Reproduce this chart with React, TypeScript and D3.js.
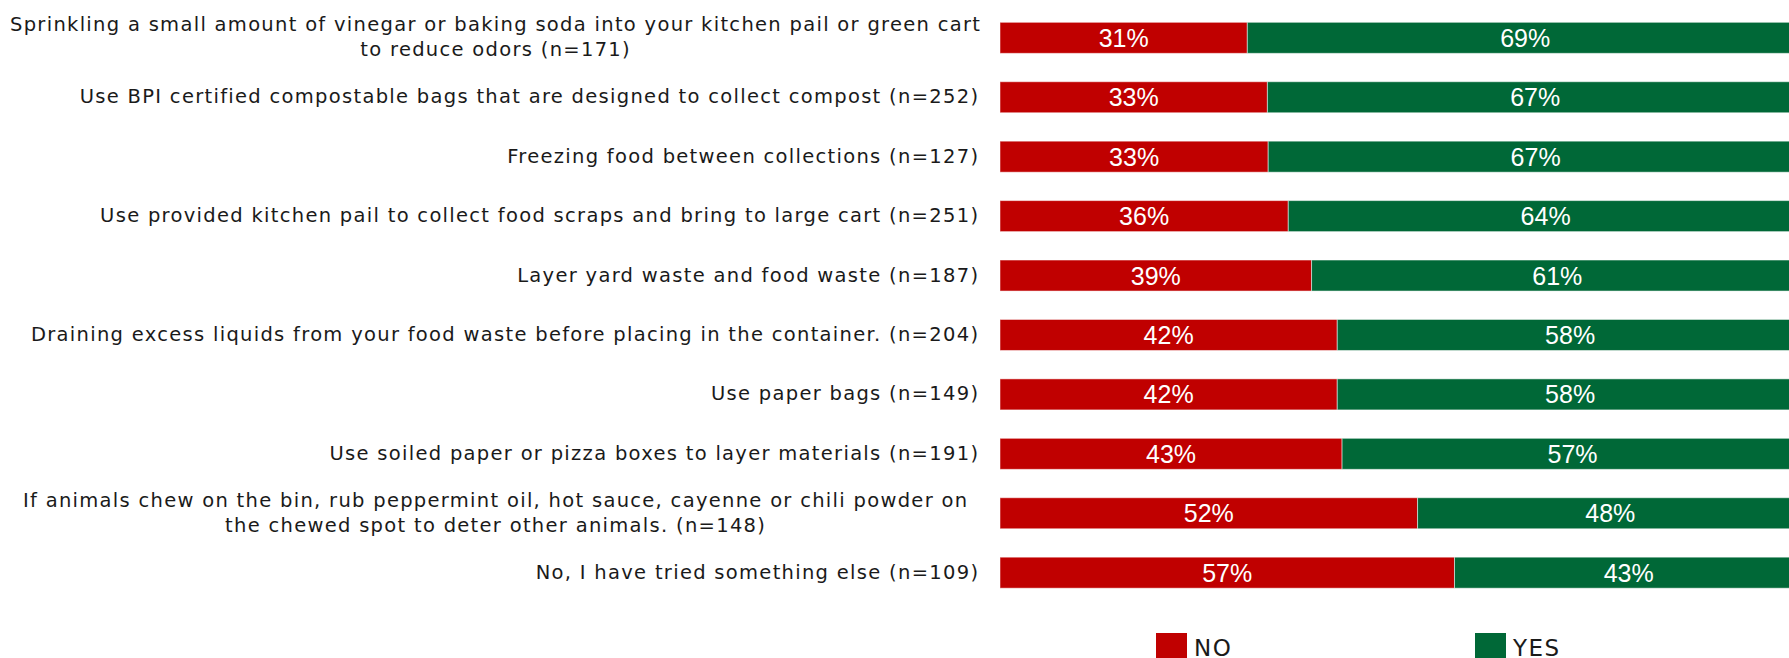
import React from "react";
import * as d3 from "d3";

const categories: string[][] = [
  ["Sprinkling a small amount of vinegar or baking soda into your kitchen pail or green cart", "to reduce odors (n=171)"],
  ["Use BPI certified compostable bags that are designed to collect compost (n=252)"],
  ["Freezing food between collections (n=127)"],
  ["Use provided kitchen pail to collect food scraps and bring to large cart (n=251)"],
  ["Layer yard waste and food waste (n=187)"],
  ["Draining excess liquids from your food waste before placing in the container. (n=204)"],
  ["Use paper bags (n=149)"],
  ["Use soiled paper or pizza boxes to layer materials (n=191)"],
  ["If animals chew on the bin, rub peppermint oil, hot sauce, cayenne or chili powder on", "the chewed spot to deter other animals. (n=148)"],
  ["No, I have tried something else (n=109)"],
];
const noValues: number[] = [30.8, 33.3, 33.4, 35.9, 38.8, 42.0, 42.0, 42.6, 52.0, 56.6];
const yesValues: number[] = [69.2, 66.7, 66.6, 64.1, 61.2, 58.0, 58.0, 57.4, 48.0, 43.4];
const seriesNames: string[] = ["NO", "YES"];
const seriesColors: string[] = ["#C00000", "#006837"];

const W = 1789;
const H = 658;
const labelFont = "'DejaVu Sans', 'Open Sans', sans-serif";
const valueFont = "'Liberation Sans', Arial, sans-serif";

export default function App() {
  const idx = categories.map((_, i) => i);
  const x = d3.scaleLinear().domain([0, 100]).range([1000, 1803]);
  const y = d3
    .scaleBand<number>()
    .domain(idx)
    .range([8.1, 8.1 + 594.3])
    .paddingInner(0.478)
    .paddingOuter(0.239);
  const bw = y.bandwidth();
  const stack = d3.stack<number, string>()
    .keys(seriesNames)
    .value((i, key) => (key === "NO" ? noValues[i] : yesValues[i]));
  const series = stack(idx);
  const labelFontSize = 19.5;
  const ls = 1.3;
  const lineH = 25;

  return (
    <svg
      width={W}
      height={H}
      style={{ position: "absolute", left: 0, top: 0, background: "#fff" }}
    >
      {series.map((s, si) => (
        <g key={s.key}>
          {s.map((d, i) => {
            const x0 = x(d[0]);
            const x1 = x(d[1]);
            const yy = y(i)!;
            const v = si === 0 ? noValues[i] : yesValues[i];
            return (
              <g key={i}>
                <rect
                  x={x0}
                  y={yy}
                  width={x1 - x0}
                  height={bw}
                  fill={seriesColors[si]}
                  stroke="#ffffff"
                  strokeOpacity={0.5}
                  strokeWidth={1}
                />
                <text
                  x={(x0 + x1) / 2}
                  y={yy + bw / 2 + 9}
                  textAnchor="middle"
                  fill="#ffffff"
                  fontFamily={valueFont}
                  fontSize={25}
                >
                  {Math.round(v)}%
                </text>
              </g>
            );
          })}
        </g>
      ))}
      {categories.map((lines, i) => {
        const cy = y(i)! + bw / 2;
        const base = cy + 6 - ((lines.length - 1) * lineH) / 2;
        return (
          <text
            key={i}
            textAnchor="middle"
            fontFamily={labelFont}
            fontSize={labelFontSize}
            letterSpacing={ls}
            fill="#1a1a1a"
          >
            {lines.map((ln, li) =>
              lines.length > 1 ? (
                <tspan key={li} x={(12 + 978) / 2 + ls / 2} y={base + li * lineH}>
                  {ln}
                </tspan>
              ) : (
                <tspan key={li} x={978 + ls} y={base} textAnchor="end">
                  {ln}
                </tspan>
              )
            )}
          </text>
        );
      })}
      {seriesNames.map((n, si) => {
        const lx = si === 0 ? 1156 : 1475;
        return (
          <g key={n}>
            <rect x={lx} y={633} width={31} height={31} fill={seriesColors[si]} />
            <text
              x={lx + 38}
              y={656}
              fontFamily={labelFont}
              fontSize={23}
              letterSpacing={1.5}
              fill="#1a1a1a"
            >
              {n}
            </text>
          </g>
        );
      })}
    </svg>
  );
}
